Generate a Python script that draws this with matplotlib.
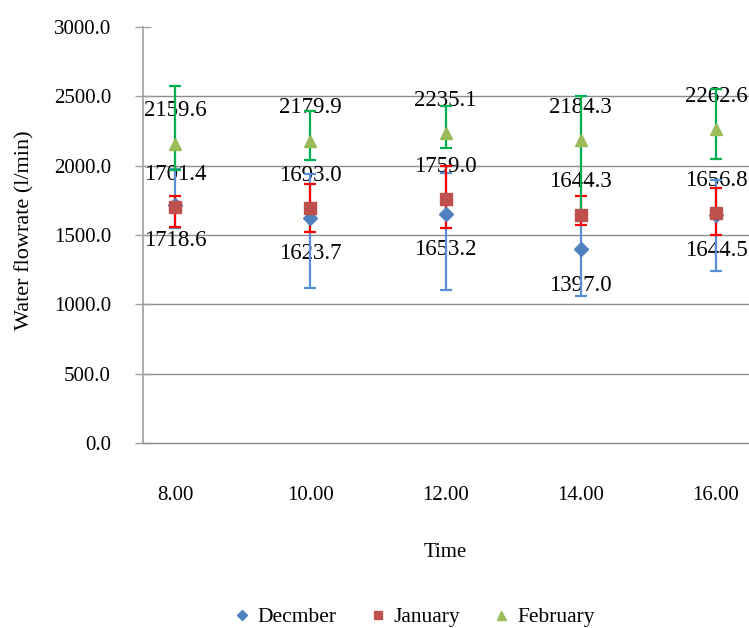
import matplotlib
matplotlib.use("Agg")
import matplotlib.pyplot as plt
from matplotlib.lines import Line2D
import numpy as np

plt.rcParams['font.family'] = ['Liberation Serif', 'DejaVu Serif']

times = ['8.00', '10.00', '12.00', '14.00', '16.00']
dec = [1718.6, 1623.7, 1653.2, 1397.0, 1644.5]
jan = [1701.4, 1693.0, 1759.0, 1644.3, 1656.8]
feb = [2159.6, 2179.9, 2235.1, 2184.3, 2262.6]

dec_low = [1554, 1120, 1101, 1060, 1240]
dec_high = [1975, 1941, 1946, 1640, 1895]
jan_low = [1558, 1522, 1554, 1570, 1500]
jan_high = [1782, 1866, 1994, 1782, 1842]
feb_low = [1970, 2040, 2126, 1650, 2047]
feb_high = [2576, 2391, 2427, 2504, 2552]

yticks = [0, 500, 1000, 1500, 2000, 2500, 3000]

series = [
    ('Decmber', dec, dec_low, dec_high, 'D', 7, '#4F81BD', '#5B8FD3', -36),
    ('January', jan, jan_low, jan_high, 's', 8, '#C0504D', '#FF0000', 33),
    ('February', feb, feb_low, feb_high, '^', 9, '#9BBB59', '#00B050', 33),
]

fig = plt.figure(figsize=(7.49, 6.28), dpi=100)
ax = fig.add_axes([143/749, (628-443)/628, (749-143)/749, 416/628])

x = np.arange(len(times))
for i, (name, vals, lo, hi, mk, ms, mc, ec, off) in enumerate(series):
    vals_a = np.array(vals)
    yerr = np.vstack([vals_a - np.array(lo), np.array(hi) - vals_a])
    ax.errorbar(x, vals_a, yerr=yerr, fmt='none', ecolor=ec, elinewidth=1.6,
                capsize=4, capthick=1.6, zorder=3 + i * 0.1)
    ax.plot(x, vals_a, linestyle='none', marker=mk, markersize=ms, color=mc,
            markeredgecolor=mc, zorder=5 + i * 0.1)
    for xi, v in zip(x, vals):
        ax.annotate(f'{v:.1f}', (xi, v), xytext=(0, off * 0.72), textcoords='offset points',
                    ha='center', va='center', fontsize=16.5, color='black', zorder=2)

ax.set_xlim(-0.237, 4.244)
ax.set_ylim(0, 3000)
ax.set_yticks(yticks)
ax.set_yticklabels([f'{t:.1f}' for t in yticks])
ax.set_xticks(x)
ax.set_xticklabels(times)

ax.yaxis.grid(True, color='#8C8C8C', linewidth=1.0)
ax.get_ygridlines()[-1].set_visible(False)
ax.get_ygridlines()[0].set_visible(False)
ax.set_axisbelow(True)

for s in ['top', 'right']:
    ax.spines[s].set_visible(False)
ax.spines['bottom'].set_color('#8C8C8C')
ax.spines['bottom'].set_linewidth(1.0)
ax.spines['left'].set_color('#A0A0A0')
ax.spines['left'].set_linewidth(1.2)

ax.tick_params(axis='y', direction='inout', length=11, width=1.0, color='#A0A0A0',
               labelsize=15, pad=17.5)
ax.tick_params(axis='x', length=0, labelsize=15, pad=31)

ax.set_xlabel('Time', fontsize=15)
ax.xaxis.set_label_coords(0.498, -0.240)
ax.xaxis.label.set_va('top')
ax.set_ylabel('Water flowrate (l/min)', fontsize=16)
ax.yaxis.set_label_coords(-0.179, 0.512)

handles = [Line2D([], [], linestyle='none', marker=s[4], markersize=s[5] * 0.72,
                  color=s[6]) for s in series]
fig.legend(handles, [s[0] for s in series], loc='center', ncol=3, frameon=False,
           bbox_to_anchor=(414/749, 11/628), fontsize=15.5, handlelength=0.8,
           handletextpad=0.35, columnspacing=1.5)

fig.savefig('out.png', dpi=100)
